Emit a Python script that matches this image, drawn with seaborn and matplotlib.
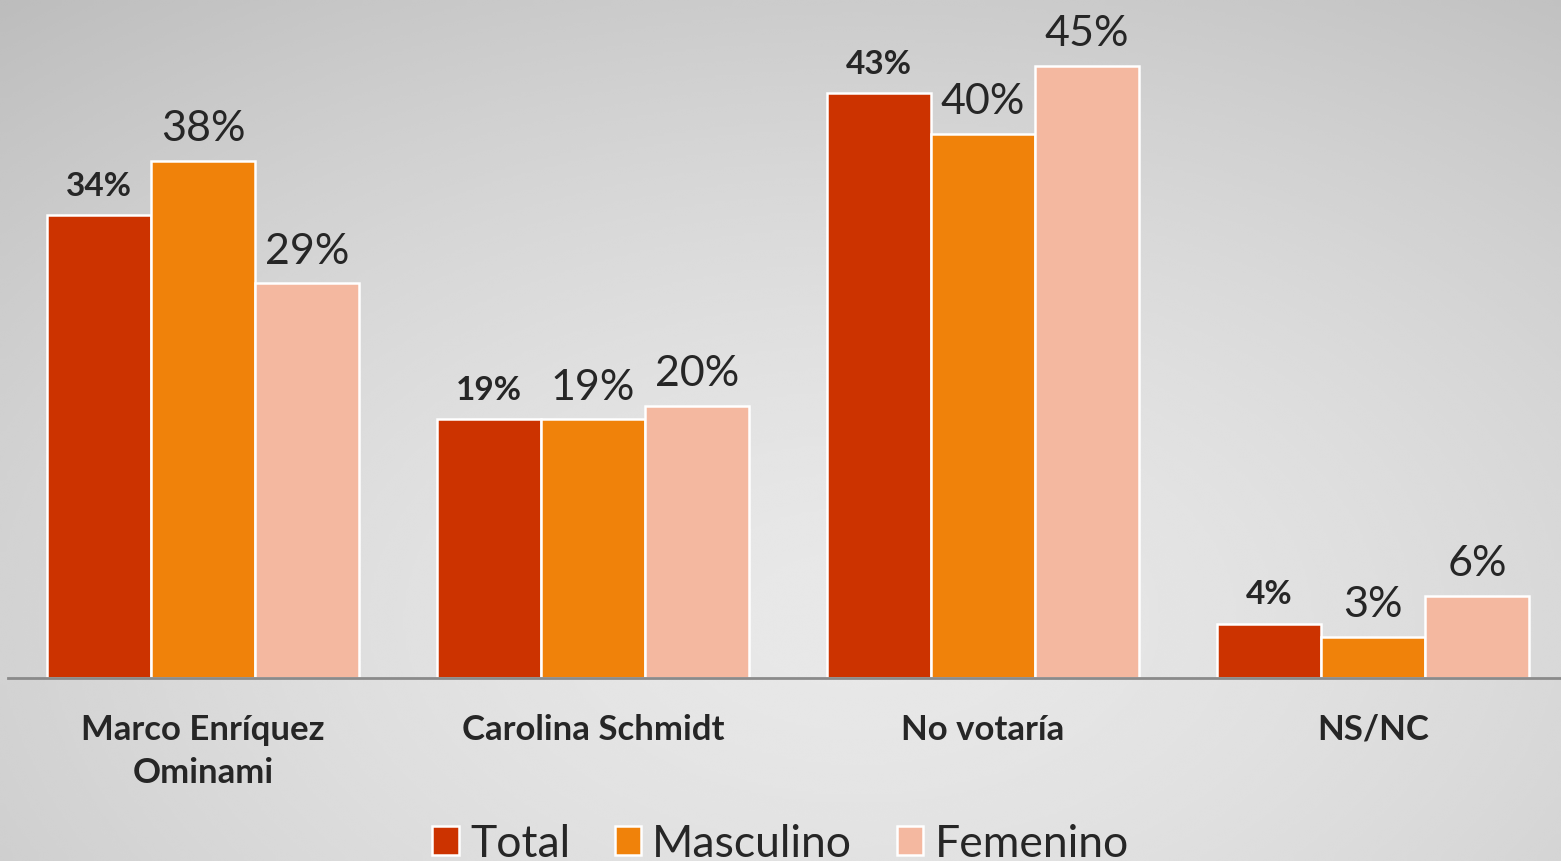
import numpy as np
import pandas as pd
import seaborn as sns
import matplotlib.pyplot as plt

# data
candidatos = ['Marco Enríquez\nOminami', 'Carolina Schmidt', 'No votaría', 'NS/NC']
grupos = ['Total', 'Masculino', 'Femenino']
total = [34, 19, 43, 4]
masculino = [38, 19, 40, 3]
femenino = [29, 20, 45, 6]
colores = ['#CC3300', '#F0820A', '#F4B8A0']

df = pd.DataFrame({
    'candidato': candidatos * 3,
    'grupo': [g for g in grupos for _ in candidatos],
    'pct': total + masculino + femenino,
})

sns.set_style('white')
plt.rcParams['font.family'] = ['Lato', 'DejaVu Sans']

fig = plt.figure(figsize=(15.61, 8.62), dpi=100)

# radial grey gradient background
bg = fig.add_axes([0, 0, 1, 1], zorder=-10)
yy, xx = np.mgrid[0:1:300j, 0:1:540j]
r = np.sqrt(((xx - 0.55) / 1.0) ** 2 + ((yy - 0.72) / 1.1) ** 2)
bg.imshow(0.91 - 0.22 * np.clip(r, 0, 1) ** 1.6, cmap='gray', vmin=0, vmax=1,
          extent=[0, 1, 0, 1], aspect='auto', interpolation='bicubic')
bg.axis('off')

ax = fig.add_axes([8 / 1561, 1 - 679 / 862, 1 - 8 / 1561, 679 / 862])
ax.patch.set_alpha(0)
sns.barplot(data=df, x='candidato', y='pct', hue='grupo', palette=colores,
            saturation=1, width=0.8, edgecolor='white', linewidth=1.8,
            ax=ax, legend=True)

ax.set_xlim(-0.5, 3.482)
ax.set_ylim(0, 49.9)

for i, cont in enumerate(ax.containers):
    if i == 0:
        ax.bar_label(cont, labels=[f'{v}%' for v in total], padding=11,
                     fontsize=24, fontweight='bold')
    else:
        vals = masculino if i == 1 else femenino
        ax.bar_label(cont, labels=[f'{v}%' for v in vals], padding=10,
                     fontsize=31)

sns.despine(ax=ax, left=True, top=True, right=True)
ax.spines['bottom'].set_color('#8a8a8a')
ax.spines['bottom'].set_linewidth(2)
ax.set_yticks([])
ax.set_xlabel('')
ax.set_ylabel('')
ax.tick_params(axis='x', length=0, pad=25)
for lbl in ax.get_xticklabels():
    lbl.set_fontsize(25)
    lbl.set_fontweight('bold')
    lbl.set_linespacing(1.45)

handles, labels = ax.get_legend_handles_labels()
ax.legend_.remove()
fig.legend(handles, labels, loc='lower center', bbox_to_anchor=(0.5, -0.05),
           ncol=3, frameon=False, fontsize=32, handlelength=0.6,
           handleheight=0.6, handletextpad=0.25, columnspacing=1.0)

fig.savefig('out.png', dpi=100)
